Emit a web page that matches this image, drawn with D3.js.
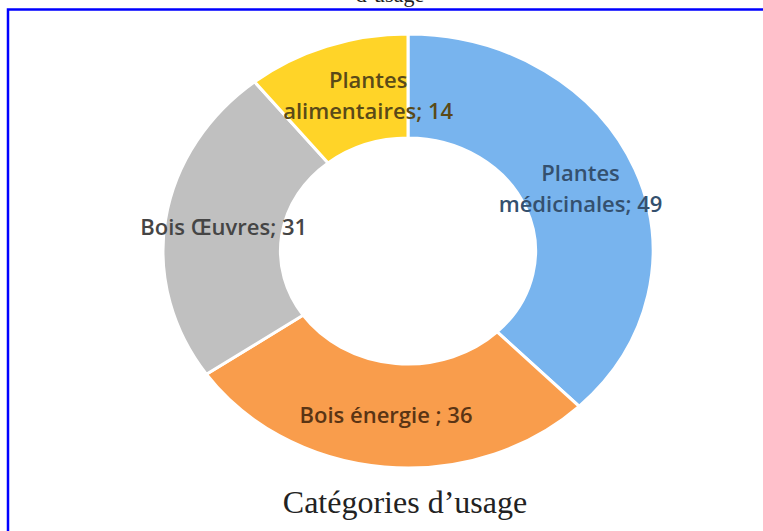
<!DOCTYPE html>
<html>
<head>
<meta charset="utf-8">
<script src="https://cdn.jsdelivr.net/npm/d3@7"></script>
<style>
	body { margin: 0; background: #fff; }
	svg { display: block; }
</style>
</head>
<body>
<div id="chart"></div>
<script>
var categories = ["Plantes médicinales", "Bois énergie", "Bois Œuvres", "Plantes alimentaires"];
var values = [49, 36, 31, 14];
var labelLines = [["Plantes", "médicinales; 49"], ["Bois énergie ; 36"], ["Bois Œuvres; 31"], ["Plantes", "alimentaires; 14"]];
var colours = ["#78b4ee", "#f99d4c", "#c0c0c0", "#ffd428"];
var textColours = ["#34506e", "#5a3414", "#454545", "#5a4a18"];
var title = "Catégories d’usage";
var topText = "d’usage";

var width = 763, height = 531;
var cx = 408, cy = 251;
var outer = 217, inner = 113;
var stretch = 245 / 217;

var svg = d3.select("#chart")
	.append("svg")
	.attr("width", width)
	.attr("height", height);

// frame
svg.append("rect")
	.attr("x", 8)
	.attr("y", 9.5)
	.attr("width", width + 20)
	.attr("height", height + 20)
	.style("fill", "none")
	.style("stroke", "#0000ff")
	.style("stroke-width", 2.5);

svg.append("text")
	.attr("x", 390)
	.attr("y", 2)
	.attr("text-anchor", "middle")
	.style("font-family", "Liberation Serif, serif")
	.style("font-size", "22px")
	.style("fill", "#222")
	.text(topText);

var pie = d3.pie().sort(null).value(function(_d) { return _d; });
var arcs = pie(values);

var arc = d3.arc().innerRadius(inner).outerRadius(outer);

var donut = svg.append("g")
	.attr("transform", "translate(" + cx + ", " + cy + ") scale(" + stretch + ", 1)");

donut.selectAll("path")
	.data(arcs)
	.enter().append("path")
	.attr("d", arc)
	.style("fill", function(_d, i) { return colours[i]; })
	.style("stroke", "#fff")
	.style("stroke-width", 3)
	.style("vector-effect", "non-scaling-stroke");

var lineGap = 31;
var nudge = [0, -4, 0, 22];

var labels = svg.selectAll(".label")
	.data(arcs)
	.enter().append("text")
	.attr("class", "label")
	.attr("text-anchor", "middle")
	.style("font-family", "Open Sans, sans-serif")
	.style("font-size", "22px")
	.style("font-weight", 600)
	.style("fill", function(_d, i) { return textColours[i]; })
	.each(function(_d, i) {
		var c = arc.centroid(_d);
		var x = cx + c[0] * stretch + nudge[i];
		var y = cy + c[1];
		var lines = labelLines[i];
		var y0 = y - (lines.length - 1) * lineGap / 2 + 8;
		var t = d3.select(this);
		lines.forEach(function(_l, k) {
			t.append("tspan")
				.attr("x", x)
				.attr("y", y0 + k * lineGap)
				.text(_l);
		});
	});

svg.append("text")
	.attr("x", 405)
	.attr("y", 513)
	.attr("text-anchor", "middle")
	.style("font-family", "Liberation Serif, serif")
	.style("font-size", "32px")
	.style("fill", "#222")
	.text(title);
</script>
</body>
</html>
